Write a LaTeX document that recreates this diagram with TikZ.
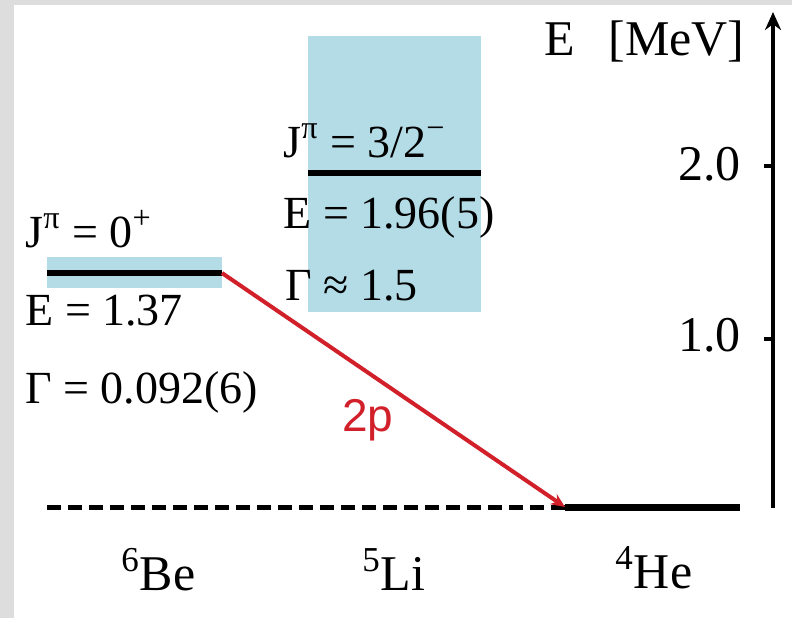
\documentclass[tikz,border=0pt]{standalone}
\usepackage{fontspec}
\setmainfont{Liberation Serif}
\newfontfamily\labelsans{Liberation Sans}
\usetikzlibrary{arrows.meta,positioning}
\definecolor{frame}{HTML}{DDDDDD}
\definecolor{band}{HTML}{B4DCE6}
\definecolor{decayred}{HTML}{D2202A}

\begin{document}
\begin{tikzpicture}[x=0.5pt,y=-0.5pt,
    lvl/.style={font=\fontsize{23}{27}\selectfont, inner sep=0pt, anchor=base west},
    big/.style={font=\fontsize{25}{30}\selectfont, inner sep=0pt},
    level/.style={line width=3pt},
    ground/.style={line width=3.5pt},
    decay/.style={draw=decayred, line width=2pt, -{Stealth[length=7pt,width=6pt]}},
    axis/.style={line width=2pt}]
  \useasboundingbox (0,0) rectangle (792,618);
  \fill[frame] (0,0) rectangle (792,618);
  \fill[white] (14,5) rectangle (792,618);
  % widths of the states
  \fill[band] (47,257) rectangle (222,288);
  \fill[band] (308,36) rectangle (481,312);
  \coordinate (beL) at (47,273);
  \coordinate (beR) at (222,273);
  \coordinate (liL) at (308,173);
  \coordinate (liR) at (481,173);
  \coordinate (gsL) at (47,507);
  \coordinate (heL) at (565,507);
  \coordinate (heR) at (740,507);
  \draw[level] (beL) -- (beR);
  \draw[level] (liL) -- (liR);
  \draw[line width=2.5pt, dash pattern=on 7pt off 3.5pt] (gsL) -- (heL);
  \draw[ground] (heL) -- (heR);
  \draw[decay] (beR) -- (heL);
  \node[font=\labelsans\fontsize{23}{27}\selectfont, text=decayred] (twop) at (368,420) {2p};
  % 6Be
  \node[lvl] (bespin) at (25,247) {J\textsuperscript{π} = 0\textsuperscript{+}};
  \node[lvl] (been) at (25,325) {E = 1.37};
  \node[lvl] (bewid) at (25,403) {Γ = 0.092(6)};
  % 5Li
  \node[lvl] (lispin) at (283,157) {J\textsuperscript{π} = 3/2\textsuperscript{−}};
  \node[lvl] (lien) at (283,228) {E = 1.96(5)};
  \node[lvl] (liwid) at (285,300) {Γ ≈ 1.5};
  % energy axis
  \coordinate (axbot) at (773,508);
  \coordinate (axtop) at (773,12);
  \draw[axis, -{Stealth[length=9pt,width=8pt]}] (axbot) -- (axtop);
  \draw[axis] (764,166) -- (773,166);
  \draw[axis] (764,339) -- (773,339);
  \node[big, anchor=base east] (ttwo) at (741,180) {2.0};
  \node[big, anchor=base east] (tone) at (741,351) {1.0};
  \node[big, anchor=base east] (eunit) at (745,55) {E\hspace{17pt}[MeV]};
  % nuclei
  \node[big, anchor=base west] (be6) at (121,590) {\textsuperscript{6}Be};
  \node[big, anchor=base west] (li5) at (362,590) {\textsuperscript{5}Li};
  \node[big, anchor=base west] (he4) at (615,588) {\textsuperscript{4}He};
\end{tikzpicture}
\end{document}
